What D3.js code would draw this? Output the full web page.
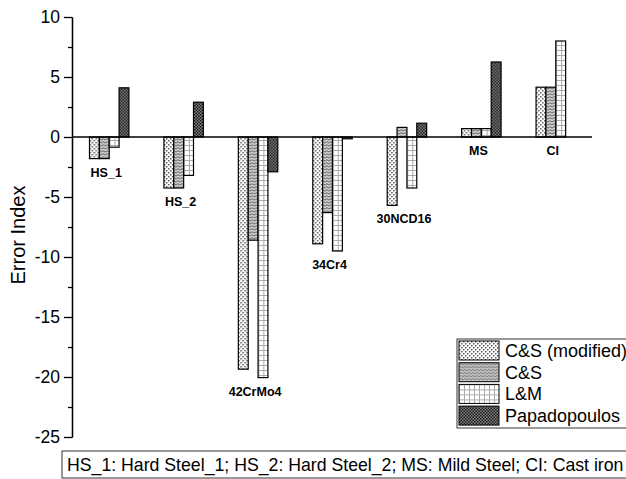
<!DOCTYPE html>
<html>
<head>
<meta charset="utf-8">
<script src="https://cdn.jsdelivr.net/npm/d3@7"></script>
<style>
  body { margin: 0; background: #fff; }
  svg { font-family: "Liberation Sans", Arial, sans-serif; }
  .axis path, .axis line { stroke: #000; stroke-width: 1.3; }
  .axis text { font-size: 17.5px; fill: #000; }
  .cat-label { font-size: 12.5px; font-weight: bold; }
</style>
</head>
<body>
<div id="chart"></div>
<script>
const categories   = ['HS_1', 'HS_2', '42CrMo4', '34Cr4', '30NCD16', 'MS', 'CI'];
const seriesNames  = ['C&S (modified)', 'C&S', 'L&M', 'Papadopoulos'];
const csModified   = [-1.8, -4.25, -19.35, -8.9, -5.7, 0.7, 4.15];
const cs           = [-1.8, -4.25, -8.6, -6.3, 0.8, 0.7, 4.15];
const lm           = [-0.85, -3.2, -20.05, -9.5, -4.25, 0.7, 8.0];
const papadopoulos = [4.1, 2.9, -2.9, -0.15, 1.15, 6.25, 0];
const yTicks       = [-25, -20, -15, -10, -5, 0, 5, 10];
const footnote     = 'HS_1: Hard Steel_1; HS_2: Hard Steel_2; MS: Mild Steel; CI: Cast iron';

const seriesValues = [csModified, cs, lm, papadopoulos];
const patternIds   = ['pat-csm', 'pat-cs', 'pat-lm', 'pat-pap'];

const width = 626, height = 479;
const svg = d3.select('#chart').append('svg')
  .attr('width', width)
  .attr('height', height);

// fill patterns, roughly like the Origin hatch styles
const defs = svg.append('defs');

let p = defs.append('pattern').attr('id', 'pat-csm').attr('patternUnits', 'userSpaceOnUse')
  .attr('width', 4).attr('height', 4);
p.append('rect').attr('width', 4).attr('height', 4).attr('fill', '#fff');
p.append('rect').attr('x', 0).attr('y', 0).attr('width', 1.5).attr('height', 1.5).attr('fill', '#555');
p.append('rect').attr('x', 2).attr('y', 2).attr('width', 1.5).attr('height', 1.5).attr('fill', '#555');

p = defs.append('pattern').attr('id', 'pat-cs').attr('patternUnits', 'userSpaceOnUse')
  .attr('width', 4).attr('height', 3);
p.append('rect').attr('width', 4).attr('height', 3).attr('fill', '#d4d4d4');
p.append('path').attr('d', 'M0,2.2L2,0.6L4,2.2').attr('fill', 'none').attr('stroke', '#555').attr('stroke-width', 1);

p = defs.append('pattern').attr('id', 'pat-lm').attr('patternUnits', 'userSpaceOnUse')
  .attr('width', 5).attr('height', 5);
p.append('rect').attr('width', 5).attr('height', 5).attr('fill', '#fff');
p.append('path').attr('d', 'M0,0.5H5M0.5,0V5').attr('fill', 'none').attr('stroke', '#aaa').attr('stroke-width', 1);

p = defs.append('pattern').attr('id', 'pat-pap').attr('patternUnits', 'userSpaceOnUse')
  .attr('width', 3).attr('height', 3);
p.append('rect').attr('width', 3).attr('height', 3).attr('fill', '#8a8a8a');
p.append('rect').attr('x', 0).attr('y', 0).attr('width', 1.5).attr('height', 1.5).attr('fill', '#111');
p.append('rect').attr('x', 1.5).attr('y', 1.5).attr('width', 1.5).attr('height', 1.5).attr('fill', '#111');

// scales
const x0 = d3.scaleBand().domain(categories).range([72, 593]).paddingInner(0.47).paddingOuter(0.235);
const x1 = d3.scaleBand().domain(seriesNames).range([0, x0.bandwidth()]);
const y  = d3.scaleLinear().domain([-25, 10]).range([437, 17]);

// y axis with minor ticks
const minorTicks = d3.range(-22.5, 10, 5);
svg.append('g').attr('class', 'axis')
  .attr('transform', 'translate(72,0)')
  .call(d3.axisLeft(y).tickValues(minorTicks).tickSize(4).tickSizeOuter(0).tickFormat(''));
svg.append('g').attr('class', 'axis')
  .attr('transform', 'translate(72,0)')
  .call(d3.axisLeft(y).tickValues(yTicks).tickSize(8).tickSizeOuter(0).tickPadding(4).tickFormat(d => String(d)));

svg.append('text')
  .attr('transform', `translate(25,235) rotate(-90)`)
  .attr('text-anchor', 'middle')
  .style('font-size', '20px')
  .text('Error Index');

// bars
const rows = categories.map((c, i) => ({
  category: c,
  values: seriesNames.map((s, j) => ({ series: s, value: seriesValues[j][i], pat: patternIds[j] }))
}));

const groups = svg.selectAll('.group').data(rows).enter().append('g')
  .attr('class', 'group')
  .attr('transform', d => `translate(${x0(d.category)},0)`);

groups.selectAll('rect').data(d => d.values).enter().append('rect')
  .attr('x', d => x1(d.series))
  .attr('width', x1.bandwidth())
  .attr('y', d => y(Math.max(0, d.value)))
  .attr('height', d => Math.abs(y(d.value) - y(0)))
  .attr('fill', d => `url(#${d.pat})`)
  .attr('stroke', '#000')
  .attr('stroke-width', 1.2);

// zero line
svg.append('line')
  .attr('x1', x0.range()[0]).attr('x2', x0.range()[1] - 1)
  .attr('y1', y(0)).attr('y2', y(0))
  .attr('stroke', '#000').attr('stroke-width', 1.3);

// category labels below each group
groups.append('text')
  .attr('class', 'cat-label')
  .attr('text-anchor', 'middle')
  .attr('x', x0.bandwidth() / 2 - 3)
  .attr('y', d => y(Math.min(0, d3.min(d.values, v => v.value))) + 18)
  .text(d => d.category);

// legend
const legend = svg.append('g').attr('transform', 'translate(457,339)');
legend.append('rect')
  .attr('width', 200).attr('height', 89)
  .attr('fill', '#fff').attr('stroke', '#333').attr('stroke-width', 1);
const rowH = 21.7;
const items = legend.selectAll('.item').data(seriesNames).enter().append('g')
  .attr('class', 'item')
  .attr('transform', (d, i) => `translate(2,${2 + i * rowH})`);
items.append('rect')
  .attr('width', 40).attr('height', 19)
  .attr('fill', (d, i) => `url(#${patternIds[i]})`)
  .attr('stroke', '#000').attr('stroke-width', 1);
items.append('text')
  .attr('x', 46).attr('y', 9.5).attr('dy', '0.36em')
  .style('font-size', '18px')
  .text(d => d);

// footnote box
const note = svg.append('g').attr('transform', 'translate(62,451)');
note.append('rect')
  .attr('width', 600).attr('height', 27)
  .attr('fill', '#fff').attr('stroke', '#333').attr('stroke-width', 1);
note.append('text')
  .attr('x', 5).attr('y', 13.5).attr('dy', '0.36em')
  .style('font-size', '17.7px')
  .text(footnote);
</script>
</body>
</html>
